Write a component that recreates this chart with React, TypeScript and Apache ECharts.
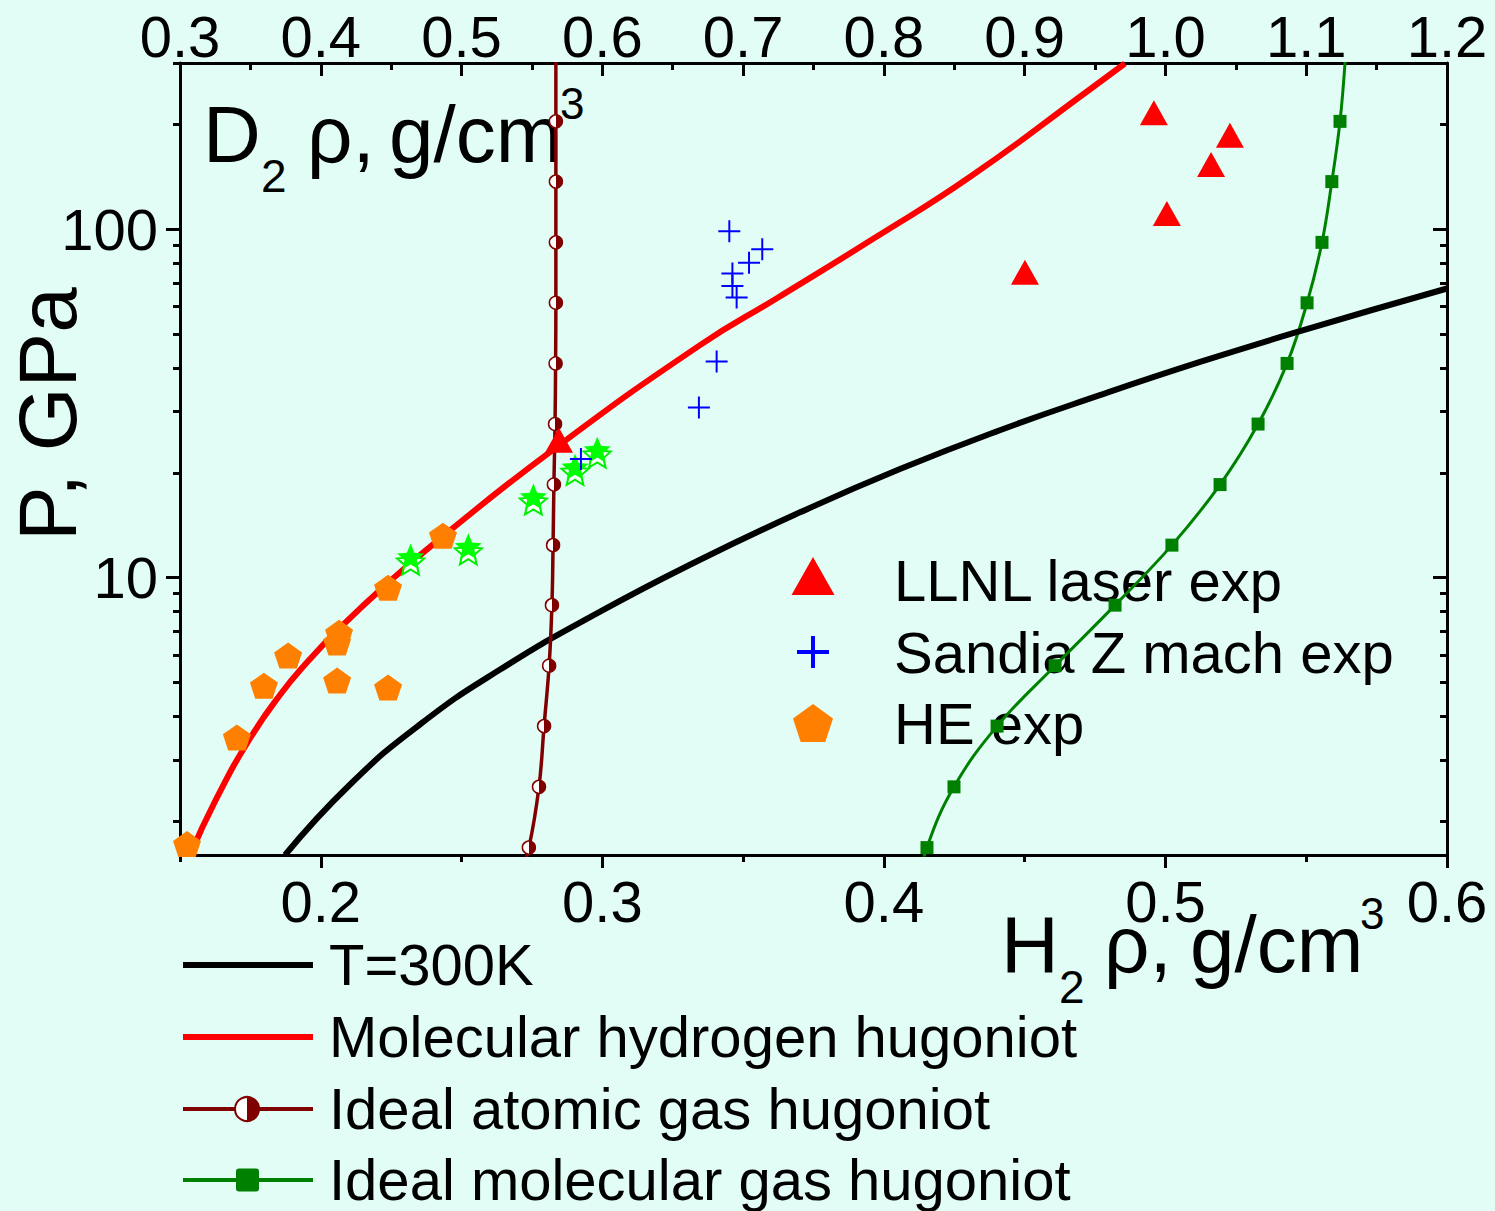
import React, { useEffect, useRef } from 'react';
import * as echarts from 'echarts';

const FONT = '"Liberation Sans", Arial, Helvetica, sans-serif';

// ---------- axis ticks ----------
const h2MajorTicks = [0.2, 0.3, 0.4, 0.5, 0.6];
const h2MinorTicks = [0.15, 0.25, 0.35, 0.45, 0.55];
const d2MajorTicks = [0.3, 0.4, 0.5, 0.6, 0.7, 0.8, 0.9, 1.0, 1.1, 1.2];
const d2MinorTicks = [0.35, 0.45, 0.55, 0.65, 0.75, 0.85, 0.95, 1.05, 1.15];
const pMajorTicks = [10, 100];
const pMinorTicks = [2, 3, 4, 5, 6, 7, 8, 9, 20, 30, 40, 50, 60, 70, 80, 90, 200, 300];

// ---------- curves (H2 density g/cm3, pressure GPa) ----------
const t300Rho = [0.1873, 0.2104, 0.2352, 0.2637, 0.2992, 0.3347, 0.3702, 0.4057, 0.4412, 0.4767, 0.5123, 0.5478, 0.6];
const t300P = [1.6, 2.55, 3.79, 5.45, 7.99, 11.26, 15.4, 20.5, 26.5, 33.4, 41.6, 51.0, 67.6];

const molHugRho = [0.1536, 0.1628, 0.1749, 0.1859, 0.1944, 0.2065, 0.2239, 0.2431, 0.2828, 0.3347, 0.362, 0.3965, 0.4309, 0.4736, 0.4856];
const molHugP = [1.6, 2.31, 3.46, 4.65, 5.63, 7.14, 9.67, 13.1, 23.4, 46.5, 63.4, 94.2, 141.9, 253.5, 299];

const atomGasRho = [0.268, 0.2739, 0.2775, 0.2793, 0.2811, 0.2821, 0.2825, 0.2828, 0.2832, 0.2834, 0.2835, 0.2835, 0.2835, 0.2835, 0.2835];
const atomGasP = [1.13, 1.68, 2.51, 3.75, 5.59, 8.34, 12.4, 18.5, 27.6, 41.2, 61.5, 91.7, 137, 204, 302];

const molGasRho = [0.41, 0.4153, 0.4249, 0.4402, 0.4608, 0.4821, 0.5023, 0.5194, 0.5329, 0.5432, 0.5503, 0.5556, 0.5591, 0.562, 0.5638];
const molGasP = [1.13, 1.68, 2.51, 3.75, 5.59, 8.34, 12.4, 18.5, 27.6, 41.2, 61.5, 91.7, 137, 204, 302];

// ---------- experiments ----------
const llnlRho = [0.2846, 0.4501, 0.4959, 0.5005, 0.5162, 0.5229];
const llnlP = [24.8, 75.3, 216, 111, 153.5, 186];

const sandiaRho = [0.3451, 0.3568, 0.3521, 0.3462, 0.3462, 0.3477, 0.3406, 0.3343, 0.2924];
const sandiaP = [98.7, 87.6, 80.1, 74.6, 68.7, 63.7, 41.7, 30.8, 21.9];

const heRho = [0.1525, 0.1702, 0.1798, 0.1884, 0.2058, 0.2058, 0.2065, 0.2239, 0.2239, 0.2434];
const heP = [1.72, 3.48, 4.9, 5.98, 5.07, 6.52, 6.95, 4.84, 9.36, 13.2];

const gasGunRho = [0.2319, 0.2524, 0.2755, 0.2903, 0.2982];
const gasGunP = [11.5, 12.3, 17.1, 20.8, 23.3];

const lineLegendLabels = ['T=300K', 'Molecular hydrogen hugoniot', 'Ideal atomic gas hugoniot', 'Ideal molecular gas hugoniot'];
const pointLegendLabels = ['LLNL laser exp', 'Sandia Z mach exp', 'HE exp'];

const zip = (xs: number[], ys: number[]) => xs.map((x, i) => [x, ys[i]]);

const PENTAGON = 'path://M0,-1L0.951,-0.309L0.588,0.809L-0.588,0.809L-0.951,-0.309Z';
const STAR = 'path://M0,-1L0.2645,-0.364L0.951,-0.309L0.428,0.139L0.588,0.809L0,0.45L-0.588,0.809L-0.428,0.139L-0.951,-0.309L-0.2645,-0.364Z';
const PLUS = 'path://M-0.09,-1L0.09,-1L0.09,-0.09L1,-0.09L1,0.09L0.09,0.09L0.09,1L-0.09,1L-0.09,0.09L-1,0.09L-1,-0.09L-0.09,-0.09Z';

const DARKRED = '#800000';
const GREEN = '#008000';
const BG = '#e2fdf6';

const halfFill = () =>
  new echarts.graphic.LinearGradient(0, 0, 1, 0, [
    { offset: 0, color: '#ffffff' },
    { offset: 0.5, color: '#ffffff' },
    { offset: 0.5, color: DARKRED },
    { offset: 1, color: DARKRED },
  ]);

const axisLineOn = { show: true, onZero: false, lineStyle: { color: '#000', width: 3 } };
const tickStyle = { color: '#000', width: 3 };
const labelBase = { color: '#000', fontSize: 58, fontFamily: FONT };

function txt(text: string, x: number, y: number, size: number, extra: any = {}) {
  return {
    type: 'text',
    x,
    y,
    z: 1,
    ...extra,
    style: {
      text,
      fill: '#000',
      fontSize: size,
      fontFamily: FONT,
      align: extra.align || 'left',
      verticalAlign: 'middle',
      textAlign: extra.align || 'left',
      textVerticalAlign: 'middle',
    },
  };
}

export default function App() {
  const ref = useRef<HTMLDivElement>(null);

  useEffect(() => {
    if (!ref.current) return;
    const chart = echarts.init(ref.current, undefined, { renderer: 'svg' });

    const rows = [965, 1037, 1109, 1180];
    const prow = [580, 652, 723];

    const graphic: any[] = [
      // axis titles
      txt('P, GPa', 47, 414, 82, { rotation: Math.PI / 2, align: 'center' }),
      txt('D', 203, 134, 80),
      txt('2', 261, 176, 46),
      txt('ρ,', 307, 134, 80),
      txt('g/cm', 389, 134, 80),
      txt('3', 560, 103, 44),
      txt('H', 1001, 944, 80),
      txt('2', 1059, 987, 46),
      txt('ρ,', 1104, 944, 80),
      txt('g/cm', 1190, 944, 80),
      txt('3', 1360, 913, 44),
      // line legend
      { type: 'line', z: 100, shape: { x1: 183, y1: rows[0], x2: 313, y2: rows[0] }, style: { stroke: '#000', lineWidth: 6 } },
      { type: 'line', z: 100, shape: { x1: 183, y1: rows[1], x2: 313, y2: rows[1] }, style: { stroke: '#ff0000', lineWidth: 6 } },
      { type: 'line', z: 100, shape: { x1: 183, y1: rows[2], x2: 313, y2: rows[2] }, style: { stroke: DARKRED, lineWidth: 4 } },
      { type: 'circle', z: 101, shape: { cx: 247, cy: rows[2], r: 12 }, style: { fill: halfFill(), stroke: DARKRED, lineWidth: 2 } },
      { type: 'line', z: 100, shape: { x1: 183, y1: rows[3], x2: 313, y2: rows[3] }, style: { stroke: GREEN, lineWidth: 4 } },
      { type: 'rect', z: 101, shape: { x: 236, y: rows[3] - 11.5, width: 23, height: 23, r: 3 }, style: { fill: GREEN } },
      ...lineLegendLabels.map((s, i) => txt(s, 329, rows[i] - 1, 58)),
      // point legend
      { type: 'polygon', z: 100, shape: { points: [[813, prow[0] - 23], [834.5, prow[0] + 15], [791.5, prow[0] + 15]] }, style: { fill: '#ff0000' } },
      { type: 'line', z: 100, shape: { x1: 797, y1: prow[1], x2: 829, y2: prow[1] }, style: { stroke: '#0000ff', lineWidth: 4 } },
      { type: 'line', z: 100, shape: { x1: 813, y1: prow[1] - 16, x2: 813, y2: prow[1] + 16 }, style: { stroke: '#0000ff', lineWidth: 4 } },
      {
        type: 'polygon', z: 100,
        shape: { points: [[813, prow[2] - 19], [833, prow[2] - 4.5], [825.3, prow[2] + 19], [800.7, prow[2] + 19], [793, prow[2] - 4.5]] },
        style: { fill: '#ff8000' },
      },
      ...pointLegendLabels.map((s, i) => txt(s, 894, prow[i], 58)),
    ];

    const option: any = {
      animation: false,
      backgroundColor: BG,
      grid: { left: 180, top: 63, right: 48, bottom: 356, containLabel: false },
      xAxis: [
        {
          type: 'value', position: 'bottom', min: 0.15, max: 0.6,
          axisLine: axisLineOn, splitLine: { show: false },
          axisTick: { show: true, inside: false, length: 13, lineStyle: tickStyle, customValues: h2MajorTicks },
          axisLabel: { ...labelBase, margin: 17, customValues: h2MajorTicks, formatter: (v: number) => v.toFixed(1) },
        },
        {
          type: 'value', position: 'bottom', min: 0.15, max: 0.6,
          axisLine: { show: false }, splitLine: { show: false },
          axisTick: { show: true, inside: false, length: 7, lineStyle: tickStyle, customValues: h2MinorTicks },
          axisLabel: { show: false },
        },
        {
          type: 'value', position: 'top', min: 0.3, max: 1.2,
          axisLine: axisLineOn, splitLine: { show: false },
          axisTick: { show: true, inside: true, length: 13, lineStyle: tickStyle, customValues: d2MajorTicks },
          axisLabel: { ...labelBase, margin: -2, customValues: d2MajorTicks, formatter: (v: number) => v.toFixed(1) },
        },
        {
          type: 'value', position: 'top', min: 0.3, max: 1.2,
          axisLine: { show: false }, splitLine: { show: false },
          axisTick: { show: true, inside: true, length: 7, lineStyle: tickStyle, customValues: d2MinorTicks },
          axisLabel: { show: false },
        },
      ],
      yAxis: [
        {
          type: 'log', logBase: 10, position: 'left', min: 1.6, max: 300,
          axisLine: axisLineOn, splitLine: { show: false },
          axisTick: { show: true, inside: false, length: 14, lineStyle: tickStyle, customValues: pMajorTicks },
          axisLabel: { ...labelBase, margin: 22, padding: [0, 0, 8, 0], customValues: pMajorTicks, formatter: (v: number) => String(Math.round(v)) },
        },
        {
          type: 'log', logBase: 10, position: 'left', min: 1.6, max: 300,
          axisLine: { show: false }, splitLine: { show: false },
          axisTick: { show: true, inside: false, length: 7, lineStyle: tickStyle, customValues: pMinorTicks },
          axisLabel: { show: false },
        },
        {
          type: 'log', logBase: 10, position: 'right', min: 1.6, max: 300,
          axisLine: axisLineOn, splitLine: { show: false },
          axisTick: { show: true, inside: true, length: 14, lineStyle: tickStyle, customValues: pMajorTicks },
          axisLabel: { show: false },
        },
        {
          type: 'log', logBase: 10, position: 'right', min: 1.6, max: 300,
          axisLine: { show: false }, splitLine: { show: false },
          axisTick: { show: true, inside: true, length: 7, lineStyle: tickStyle, customValues: pMinorTicks },
          axisLabel: { show: false },
        },
      ],
      series: [
        {
          name: lineLegendLabels[3], type: 'line', xAxisIndex: 0, yAxisIndex: 0,
          data: zip(molGasRho, molGasP), smooth: 0.4, symbol: 'rect', symbolSize: 13, showAllSymbol: true,
          itemStyle: { color: GREEN }, lineStyle: { color: GREEN, width: 3 }, z: 2,
        },
        {
          name: lineLegendLabels[0], type: 'line', xAxisIndex: 0, yAxisIndex: 0,
          data: zip(t300Rho, t300P), smooth: 0.5, symbol: 'none',
          lineStyle: { color: '#000', width: 6 }, itemStyle: { color: '#000' }, z: 3,
        },
        {
          name: lineLegendLabels[2], type: 'line', xAxisIndex: 0, yAxisIndex: 0,
          data: zip(atomGasRho, atomGasP), smooth: 0.4, symbol: 'circle', symbolSize: 13, showAllSymbol: true,
          itemStyle: { color: halfFill(), borderColor: DARKRED, borderWidth: 1.5 },
          lineStyle: { color: DARKRED, width: 3.5 }, z: 4,
        },
        {
          name: lineLegendLabels[1], type: 'line', xAxisIndex: 0, yAxisIndex: 0,
          data: zip(molHugRho, molHugP), smooth: 0.5, symbol: 'none',
          lineStyle: { color: '#ff0000', width: 6 }, itemStyle: { color: '#ff0000' }, z: 5,
        },
        {
          name: pointLegendLabels[2], type: 'scatter', xAxisIndex: 0, yAxisIndex: 0,
          data: zip(heRho, heP), symbol: PENTAGON, symbolSize: [28, 26],
          itemStyle: { color: '#ff8000', opacity: 1 }, z: 6,
        },
        {
          name: 'gas gun (hollow)', type: 'scatter', xAxisIndex: 0, yAxisIndex: 0,
          data: zip(gasGunRho, gasGunP), symbol: STAR, symbolSize: [27, 26], symbolOffset: [0, 5],
          itemStyle: { color: '#ffffff', borderColor: '#00ee00', borderWidth: 2, opacity: 1 }, z: 6,
        },
        {
          name: 'gas gun', type: 'scatter', xAxisIndex: 0, yAxisIndex: 0,
          data: zip(gasGunRho, gasGunP), symbol: STAR, symbolSize: [27, 26],
          itemStyle: { color: '#00ff00', opacity: 1 }, z: 7,
        },
        {
          name: pointLegendLabels[1], type: 'scatter', xAxisIndex: 0, yAxisIndex: 0,
          data: zip(sandiaRho, sandiaP), symbol: PLUS, symbolSize: 22,
          itemStyle: { color: '#0000ff', opacity: 1 }, z: 8,
        },
        {
          name: pointLegendLabels[0], type: 'scatter', xAxisIndex: 0, yAxisIndex: 0,
          data: zip(llnlRho, llnlP), symbol: 'triangle', symbolSize: [28, 25],
          itemStyle: { color: '#ff0000', opacity: 1 }, z: 8,
        },
      ],
      graphic,
    };

    chart.setOption(option);
    return () => chart.dispose();
  }, []);

  return (
    <div
      ref={ref}
      style={{ position: 'fixed', left: 0, top: 0, width: 1495, height: 1211, background: BG }}
    />
  );
}
